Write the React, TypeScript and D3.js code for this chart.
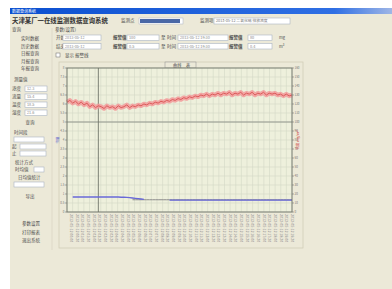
import React from 'react';
import * as d3 from 'd3';

// time labels along the bottom (one per grid column)
const timeLabels = [
  '05-12 00:00', '05-12 00:30', '05-12 01:00', '05-12 01:30', '05-12 02:00', '05-12 02:30',
  '05-12 03:00', '05-12 03:30', '05-12 04:00', '05-12 04:30', '05-12 05:00', '05-12 05:30',
  '05-12 06:00', '05-12 06:30', '05-12 07:00', '05-12 07:30', '05-12 08:00', '05-12 08:30',
  '05-12 09:00', '05-12 09:30', '05-12 10:00', '05-12 10:30', '05-12 11:00', '05-12 11:30',
  '05-12 12:00', '05-12 12:30', '05-12 13:00', '05-12 13:30', '05-12 14:00', '05-12 14:30',
  '05-12 15:00', '05-12 15:30', '05-12 16:00', '05-12 16:30', '05-12 17:00', '05-12 17:30',
  '05-12 18:00', '05-12 18:30', '05-12 19:00', '05-12 19:30',
];

// red series (right axis), one value per half-column
const redValues = [
  122, 124, 121, 123, 120, 122, 119, 121, 117, 119, 116, 118, 117, 115, 118, 116,
  117, 115, 118, 116, 117, 119, 116, 118, 117, 119, 118, 120, 119, 121, 120, 122,
  121, 123, 122, 124, 123, 125, 124, 126, 125, 127, 126, 128, 127, 129, 128, 130,
  129, 131, 129, 131, 130, 132, 130, 132, 131, 133, 130, 132, 131, 133, 130, 132,
  131, 133, 130, 132, 131, 133, 130, 132, 131, 132, 130, 131, 129, 131, 129, 130,
];

// blue series (left axis)
const blueValues: (number | null)[] = [
  null, null, 0.83, 0.83, 0.84, 0.83, 0.83, 0.84, 0.83, 0.83, 0.84, 0.83, 0.83, 0.84, 0.83, 0.83,
  0.84, 0.83, 0.83, 0.82, 0.82, 0.81, 0.8, 0.78, 0.76, 0.74, 0.72, 0.7, null, null, null, null,
  null, null, null, null, 0.66, 0.66, 0.66, 0.66, 0.66, 0.66, 0.66, 0.66, 0.66, 0.66, 0.66, 0.66,
  0.66, 0.66, 0.66, 0.66, 0.66, 0.66, 0.66, 0.66, 0.66, 0.66, 0.66, 0.66, 0.66, 0.66, 0.66, 0.66,
  0.66, 0.66, 0.66, 0.66, 0.66, 0.66, 0.66, 0.66, 0.66, 0.66, 0.66, 0.66, 0.66, 0.66, 0.66, 0.66,
];

// gray reference series (left axis)
const grayValues: (number | null)[] = [
  null, null, null, null, null, null, null, null, null, null, null, null, null, null, null, null,
  null, null, null, null, null, null, null, 0.68, 0.68, 0.68, 0.68, 0.68, 0.68, 0.68, 0.68, 0.68,
  0.68, 0.68, 0.68, 0.68, 0.68, 0.68, 0.68, 0.68, 0.68, 0.68, 0.68, 0.68, 0.68, 0.68, 0.68, 0.68,
  0.68, 0.68, 0.68, 0.68, 0.68, 0.68, 0.68, 0.68, 0.68, 0.68, 0.68, 0.68, 0.68, 0.68, 0.68, 0.68,
  0.68, 0.68, 0.68, 0.68, 0.68, 0.68, 0.68, 0.68, 0.68, 0.68, 0.68, 0.68, 0.68, 0.68, 0.68, 0.68,
];

const leftTicks = [0, 0.5, 1, 1.5, 2, 2.5, 3, 3.5, 4, 4.5, 5, 5.5, 6, 6.5, 7, 7.5, 8];
const rightTicks = [0, 10, 20, 30, 40, 50, 60, 70, 80, 90, 100, 110, 120, 130, 140, 150, 160];
const limitValue = 100;
const cursorIndex = 11;

const sideButtons = ['实时数据', '历史数据', '日报查询', '月报查询', '年报查询'];
const bottomButtons = ['参数设置', '打印报表', '退出系统'];

const font = '"Noto Sans CJK SC", "Noto Sans", sans-serif';

const Label = ({ x, y, t, s = 4.5, c = '#4a4a4a', w = 400, a = 'start' as any }: any) => (
  <text x={x} y={y} fontSize={s} fill={c} fontWeight={w} textAnchor={a} fontFamily={font}>{t}</text>
);

const Box = ({ x, y, w, h, fill = '#fff' }: any) => (
  <rect x={x} y={y} width={w} height={h} fill={fill} stroke="#aab4c4" strokeWidth={0.6} />
);

export default function App() {
  const left = 67, right = 292, top = 68, bottom = 212;

  const xScale = d3.scaleLinear().domain([0, redValues.length - 1]).range([left, right]);
  const yLeft = d3.scaleLinear().domain([0, 8]).range([bottom, top]);
  const yRight = d3.scaleLinear().domain([0, 160]).range([bottom, top]);
  const xLab = d3.scalePoint<string>().domain(timeLabels).range([left + 2, right - 2]);

  const redLine = d3.line<number>().x((_, i) => xScale(i)).y(d => yRight(d));
  const valLine = d3.line<number | null>()
    .defined(d => d !== null)
    .x((_, i) => xScale(i))
    .y(d => yLeft(d as number));

  const vGrid = d3.range(0, 41).map(i => left + (i * (right - left)) / 40);

  return (
    <div style={{ position: 'fixed', left: 0, top: 0 }}>
      <svg width={392} height={289} style={{ display: 'block' }}>
        <defs>
          <linearGradient id="tb" x1="0" x2="1">
            <stop offset="0" stopColor="#0b4fd0" />
            <stop offset="0.85" stopColor="#2f6fe4" />
            <stop offset="1" stopColor="#9fb6e6" />
          </linearGradient>
        </defs>
        <rect x={0} y={0} width={392} height={289} fill="#fff" />
        {/* window */}
        <rect x={10} y={8} width={382} height={281} fill="#ece9d8" />
        <rect x={10} y={8} width={382} height={6} fill="url(#tb)" />
        <Label x={12} y={12.6} t="数据查询系统" s={4} c="#fff" />

        {/* header */}
        <Label x={12} y={23} t="天津某厂一在线监测数据查询系统" s={6.4} c="#333" w={700} />
        <Label x={121} y={22} t="监测点" s={4.5} />
        <rect x={139} y={18} width={44} height={6} fill="#fff" stroke="#aab4c4" strokeWidth={0.5} />
        <rect x={140} y={19} width={40} height={4} fill="#4a68a6" />
        <Label x={200} y={22} t="监测项" s={4.5} />
        <Box x={214} y={18} w={76} h={6} />
        <Label x={216} y={22.3} t="2013-05-12 二氧化硫 排放浓度" s={3.8} c="#777" />

        {/* left panel */}
        <Label x={12} y={31} t="查询" s={4.5} />
        {sideButtons.map((b, i) => (
          <Label key={b} x={30} y={40 + i * 7.5} t={b} s={4.5} a="middle" />
        ))}
        <line x1={52} y1={28} x2={52} y2={250} stroke="#d6d2bf" strokeWidth={0.6} />
        <Label x={14} y={81} t="测量值" s={4.5} />
        {['浓度', '流量', '温度', '湿度'].map((b, i) => (
          <g key={b}>
            <Label x={12} y={90 + i * 8} t={b} s={4.5} />
            <Box x={25} y={86 + i * 8} w={22} h={5.5} />
            <Label x={27} y={90 + i * 8} t={(12.3 + i * 3.1).toFixed(1)} s={3.8} c="#888" />
          </g>
        ))}
        <Label x={30} y={124} t="查询" s={4.5} a="middle" />
        <Label x={14} y={134} t="时间段" s={4.5} />
        <Box x={14} y={137} w={30} h={5} />
        <Label x={12} y={148} t="起" s={4.5} />
        <Box x={20} y={144} w={26} h={5} />
        <Label x={12} y={155} t="止" s={4.5} />
        <Box x={20} y={151} w={26} h={5} />
        <Label x={15} y={164} t="统计方式" s={4.5} />
        <Label x={15} y={171} t="时均值" s={4.5} />
        <Box x={34} y={167} w={10} h={5} />
        <Label x={18} y={179} t="日均值统计" s={4.5} />
        <Box x={14} y={182} w={30} h={5} />
        <Label x={30} y={198} t="导出" s={4.5} a="middle" />
        {bottomButtons.map((b, i) => (
          <Label key={b} x={31} y={225 + i * 8.5} t={b} s={4.5} a="middle" />
        ))}

        {/* parameter group */}
        <Label x={55} y={31} t="参数(设置)" s={4.5} />
        {[0, 1].map(r => {
          const y = 35 + r * 8.5;
          return (
            <g key={r}>
              <Label x={56} y={y + 4} t={r === 0 ? '开始' : '结束'} s={4.5} />
              <Box x={63} y={y} w={38} h={5.5} />
              <Label x={65} y={y + 4} t="2013-05-12" s={3.8} c="#888" />
              <Label x={113} y={y + 4} t="报警值" s={4.5} w={700} />
              <Box x={127} y={y} w={32} h={5.5} />
              <Label x={129} y={y + 4} t={r === 0 ? '100' : '0.5'} s={3.8} c="#888" />
              <Label x={161} y={y + 4} t="至" s={4.5} />
              <Label x={167} y={y + 4} t="时间" s={4.5} />
              <Box x={178} y={y} w={50} h={5.5} />
              <Label x={180} y={y + 4} t="2013-05-12 19:30" s={3.8} c="#888" />
              <Label x={229} y={y + 4} t="报警值" s={4.5} w={700} />
              <Box x={248} y={y} w={24} h={5.5} />
              <Label x={250} y={y + 4} t={r === 0 ? '80' : '0.4'} s={3.8} c="#888" />
              <Label x={279} y={y + 4} t={r === 0 ? 'mg' : 'm³'} s={4} />
            </g>
          );
        })}
        <rect x={56} y={53} width={4} height={4} fill="#fff" stroke="#666" strokeWidth={0.5} />
        <Label x={65} y={57} t="显示 报警线" s={4.5} />

        {/* chart group */}
        <rect x={59} y={62} width={244} height={186} fill="none" stroke="#cfcab4" strokeWidth={0.7} />
        <rect x={165} y={62} width={31} height={6} fill="#ece9d8" stroke="#8c8c8c" strokeWidth={0.5} />
        <Label x={173} y={66.6} t="曲线" s={4.2} />
        <Label x={186} y={66.6} t="表" s={4.2} />

        {/* plot */}
        <rect x={left} y={top} width={right - left} height={bottom - top} fill="#eef0dc" />
        {vGrid.map((x, i) => (
          <line key={'v' + i} x1={x} x2={x} y1={top} y2={bottom} stroke="#d3d9c6" strokeWidth={0.6} />
        ))}
        {rightTicks.map(t => (
          <line key={'h' + t} x1={left} x2={right} y1={yRight(t)} y2={yRight(t)} stroke="#d3d9c6" strokeWidth={0.6} />
        ))}
        <line x1={left} x2={right} y1={yRight(limitValue)} y2={yRight(limitValue)} stroke="#8a8f86" strokeWidth={0.9} />
        <line x1={xScale(cursorIndex)} x2={xScale(cursorIndex)} y1={top} y2={bottom} stroke="#6f7569" strokeWidth={0.9} />

        <path d={redLine(redValues) || ''} fill="none" stroke="#f29a9a" strokeWidth={4.5} strokeLinejoin="round" opacity={0.85} />
        <path d={redLine(redValues) || ''} fill="none" stroke="#dc5a5a" strokeWidth={1} />
        <path d={valLine(grayValues) || ''} fill="none" stroke="#8b8b8b" strokeWidth={1} />
        <path d={valLine(blueValues) || ''} fill="none" stroke="#6868d8" strokeWidth={1.4} />

        {/* axes */}
        <rect x={left} y={top} width={right - left} height={bottom - top} fill="none" stroke="#6e7268" strokeWidth={0.9} />
        {leftTicks.map(t => (
          <g key={'l' + t}>
            <line x1={left - 2} x2={left} y1={yLeft(t)} y2={yLeft(t)} stroke="#666" strokeWidth={0.5} />
            <text x={left - 2.5} y={yLeft(t) + 1} fontSize={3} textAnchor="end" fill="#777" fontFamily={font}>{t}</text>
          </g>
        ))}
        {rightTicks.map(t => (
          <g key={'r' + t}>
            <line x1={right} x2={right + 2} y1={yRight(t)} y2={yRight(t)} stroke="#666" strokeWidth={0.5} />
            <text x={right + 2.5} y={yRight(t) + 1} fontSize={3} fill="#777" fontFamily={font}>{t}</text>
          </g>
        ))}
        <text transform={`translate(59,140) rotate(-90)`} fontSize={3.5} fill="#5555cc" textAnchor="middle" fontFamily={font}>流量</text>
        <text transform={`translate(299,140) rotate(-90)`} fontSize={3.5} fill="#d04040" textAnchor="middle" fontFamily={font}>浓度 mg/m³</text>
        {timeLabels.map(t => (
          <text key={t} transform={`translate(${xLab(t)! + 1},214) rotate(90)`} fontSize={3.6} fill="#888" fontFamily={font}>{'2013-' + t}</text>
        ))}
      </svg>
    </div>
  );
}
